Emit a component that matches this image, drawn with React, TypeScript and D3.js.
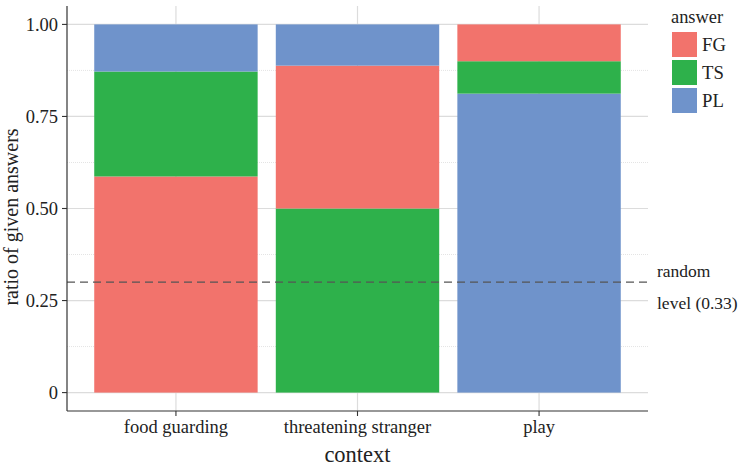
import React from "react";
import * as d3 from "d3";

const contexts = ["food guarding", "threatening stranger", "play"];
const answers = ["FG", "TS", "PL"];
// ratio of each answer per context (order: food guarding, threatening stranger, play)
const fgValues = [0.587, 0.388, 0.1];
const tsValues = [0.285, 0.5, 0.088];
const plValues = [0.128, 0.112, 0.812];
// stacking order (bottom to top) per context
const stackOrder = [
  ["FG", "TS", "PL"],
  ["TS", "FG", "PL"],
  ["PL", "TS", "FG"],
];
const yTicks = [0, 0.25, 0.5, 0.75, 1];
const yTickLabels = ["0", "0.25", "0.50", "0.75", "1.00"];
const yMinor = [0.125, 0.375, 0.625, 0.875];
const randomLevel = 0.3;

const colors: Record<string, string> = { FG: "#F2736C", TS: "#2EB14B", PL: "#6F93CB" };
const valueMap: Record<string, number[]> = { FG: fgValues, TS: tsValues, PL: plValues };

export default function App() {
  const W = 744, H = 468;
  const left = 67, right = 648, top = 6, bottom = 411;
  const x = d3.scaleBand<string>().domain(contexts).range([left, right]).paddingInner(0.1).paddingOuter(0.15);
  const y = d3.scaleLinear().domain([-0.05, 1.05]).range([bottom, top]);
  const font = "'Liberation Serif', 'Times New Roman', serif";

  const bars: JSX.Element[] = [];
  contexts.forEach((c, i) => {
    let acc = 0;
    stackOrder[i].forEach((a) => {
      const v = valueMap[a][i];
      const y0 = acc, y1 = acc + v;
      acc = y1;
      bars.push(
        <rect key={c + a} x={x(c)!} width={x.bandwidth()} y={y(y1)} height={y(y0) - y(y1)} fill={colors[a]} />
      );
    });
  });

  return (
    <svg width={W} height={H} style={{ position: "absolute", left: 0, top: 0, background: "#fff" }} fontFamily={font}>
      {/* grid */}
      {yMinor.map((t) => (
        <line key={"mn" + t} x1={left} x2={right} y1={y(t)} y2={y(t)} stroke="#e4e4e4" strokeWidth={1} strokeDasharray="1,1" />
      ))}
      {yTicks.map((t) => (
        <line key={"mj" + t} x1={left} x2={right} y1={y(t)} y2={y(t)} stroke="#dcdcdc" strokeWidth={1.2} />
      ))}
      {contexts.map((c) => (
        <line key={"vg" + c} x1={x(c)! + x.bandwidth() / 2} x2={x(c)! + x.bandwidth() / 2} y1={top} y2={bottom} stroke="#dcdcdc" strokeWidth={1.2} />
      ))}
      {bars}
      {/* random level */}
      <line x1={left} x2={right} y1={y(randomLevel)} y2={y(randomLevel)} stroke="#555" strokeWidth={1.3} strokeDasharray="8,5" />
      <text x={657} y={277} fontSize={17.5} fill="#222">random</text>
      <text x={657} y={309} fontSize={17.5} fill="#222">level (0.33)</text>
      {/* axes */}
      <line x1={left} x2={left} y1={top} y2={bottom} stroke="#333" strokeWidth={1.2} />
      <line x1={left} x2={right} y1={bottom} y2={bottom} stroke="#333" strokeWidth={1.2} />
      {yTicks.map((t, i) => (
        <g key={"yt" + t}>
          <line x1={left - 5} x2={left} y1={y(t)} y2={y(t)} stroke="#333" strokeWidth={1.1} />
          <text x={58} y={y(t) + 6.3} textAnchor="end" fontSize={18.5} fill="#222">{yTickLabels[i]}</text>
        </g>
      ))}
      {contexts.map((c) => {
        const cx = x(c)! + x.bandwidth() / 2;
        return (
          <g key={"xt" + c}>
            <line x1={cx} x2={cx} y1={bottom} y2={bottom + 5} stroke="#333" strokeWidth={1.1} />
            <text x={cx} y={433} textAnchor="middle" fontSize={18.5} fill="#222">{c}</text>
          </g>
        );
      })}
      <text x={(left + right) / 2} y={462} textAnchor="middle" fontSize={22.5} fill="#222">context</text>
      <text transform={`translate(18,217) rotate(-90)`} textAnchor="middle" fontSize={20} fill="#222">ratio of given answers</text>
      {/* legend */}
      <text x={671} y={22.5} fontSize={18.4} fill="#222">answer</text>
      {answers.map((a, i) => (
        <g key={"lg" + a}>
          <rect x={672} y={32 + i * 28} width={25} height={25} fill={colors[a]} />
          <text x={702} y={32 + i * 28 + 18.5} fontSize={18.7} fill="#222">{a}</text>
        </g>
      ))}
    </svg>
  );
}
